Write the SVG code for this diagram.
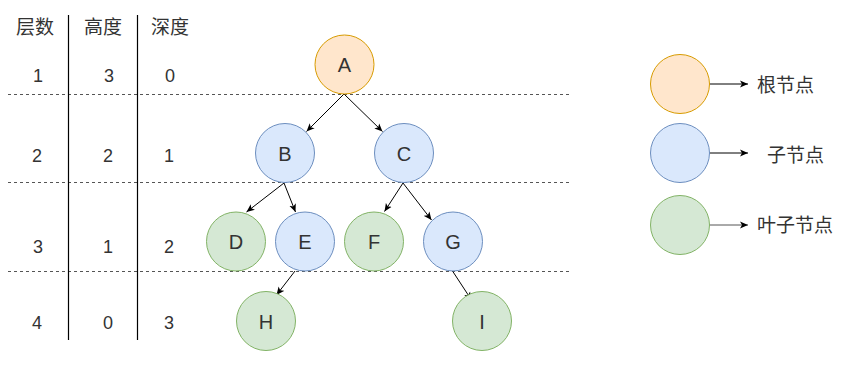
<svg xmlns="http://www.w3.org/2000/svg" width="855" height="368" viewBox="0 0 855 368">
<style>
.t{font-family:"Liberation Sans","Noto Sans CJK SC",Arial,sans-serif;fill:#333;text-anchor:middle}
.n{font-size:18px}
.h{font-family:"Noto Sans CJK SC","Liberation Sans",sans-serif;font-size:19px}
.l{font-size:20px}
.lg{font-family:"Noto Sans CJK SC","Liberation Sans",sans-serif;font-size:19px;text-anchor:start}
.or{fill:#ffe6cc;stroke:#d79b00}
.bl{fill:#dae8fc;stroke:#6c8ebf}
.gr{fill:#d5e8d4;stroke:#82b366}
.dash{stroke:#555;stroke-width:1;stroke-dasharray:3 3;fill:none}
.vl{stroke:#000;stroke-width:1.2}
.ed{stroke:#000;stroke-width:1;fill:none;marker-end:url(#ah)}
</style>
<defs>
<marker id="ah" markerUnits="userSpaceOnUse" markerWidth="10" markerHeight="8" refX="8" refY="4" orient="auto">
<path d="M0,0.5 L8,4 L0,7.5 L2,4 Z" fill="#000"/>
</marker>
</defs>
<rect width="855" height="368" fill="#fff"/>
<g id="grid">
<line class="dash" x1="8" y1="94.5" x2="570" y2="94.5"/>
<line class="dash" x1="8" y1="182.5" x2="570" y2="182.5"/>
<line class="dash" x1="8" y1="271.5" x2="570" y2="271.5"/>
<line class="vl" x1="68.5" y1="15" x2="68.5" y2="340"/>
<line class="vl" x1="137.5" y1="15" x2="137.5" y2="340"/>
</g>
<g id="table-text">
<text class="t h" x="35" y="34">层数</text>
<text class="t h" x="103" y="34">高度</text>
<text class="t h" x="170" y="34">深度</text>
<text class="t n" x="38" y="81.5">1</text>
<text class="t n" x="109" y="81.5">3</text>
<text class="t n" x="170" y="81.5">0</text>
<text class="t n" x="37" y="161.5">2</text>
<text class="t n" x="108" y="161.5">2</text>
<text class="t n" x="169" y="161.5">1</text>
<text class="t n" x="38" y="253">3</text>
<text class="t n" x="108" y="253">1</text>
<text class="t n" x="169" y="253">2</text>
<text class="t n" x="37" y="329">4</text>
<text class="t n" x="108" y="329">0</text>
<text class="t n" x="169" y="329">3</text>
</g>
<g id="connectors">
<path class="ed" d="M344,94 L306.5,131.5"/>
<path class="ed" d="M344,94 L382.5,131.5"/>
<path class="ed" d="M284,183 L246.5,212"/>
<path class="ed" d="M284,183 L295.5,212"/>
<path class="ed" d="M403,183 L384.5,211.5"/>
<path class="ed" d="M403,183 L431.5,220"/>
<path class="ed" d="M295,271 L276.5,295"/>
<path class="ed" d="M452.5,271 L471.5,300"/>
<path class="ed" d="M709.5,84 L748,84"/>
<path class="ed" d="M709.5,153 L748,153"/>
<path class="ed" d="M709.5,225 L748,225" style="stroke:#555"/>
</g>
<g id="node-A"><circle class="or" cx="344.5" cy="64.5" r="29.5"/><text class="t l" x="344.5" y="72">A</text></g>
<g id="node-B"><circle class="bl" cx="285" cy="153" r="29.5"/><text class="t l" x="285" y="160.5">B</text></g>
<g id="node-C"><circle class="bl" cx="404" cy="153" r="29.5"/><text class="t l" x="404" y="160.5">C</text></g>
<g id="node-D"><circle class="gr" cx="236" cy="241.5" r="29.5"/><text class="t l" x="236" y="249">D</text></g>
<g id="node-E"><circle class="bl" cx="305" cy="241.5" r="29.5"/><text class="t l" x="305" y="249">E</text></g>
<g id="node-F"><circle class="gr" cx="374" cy="241.5" r="29.5"/><text class="t l" x="374" y="249">F</text></g>
<g id="node-G"><circle class="bl" cx="453" cy="241.5" r="29.5"/><text class="t l" x="453" y="249">G</text></g>
<g id="node-H"><circle class="gr" cx="266" cy="321" r="29.5"/><text class="t l" x="266" y="328.5">H</text></g>
<g id="node-I"><circle class="gr" cx="482" cy="321" r="29.5"/><text class="t l" x="482" y="328.5">I</text></g>
<g id="legend-root"><circle class="or" cx="680" cy="84" r="29.5"/><text class="t lg" x="757" y="92">根节点</text></g>
<g id="legend-child"><circle class="bl" cx="680" cy="153" r="29.5"/><text class="t lg" x="767" y="162">子节点</text></g>
<g id="legend-leaf"><circle class="gr" cx="680" cy="225" r="29.5"/><text class="t lg" x="757" y="232">叶子节点</text></g>
</svg>
